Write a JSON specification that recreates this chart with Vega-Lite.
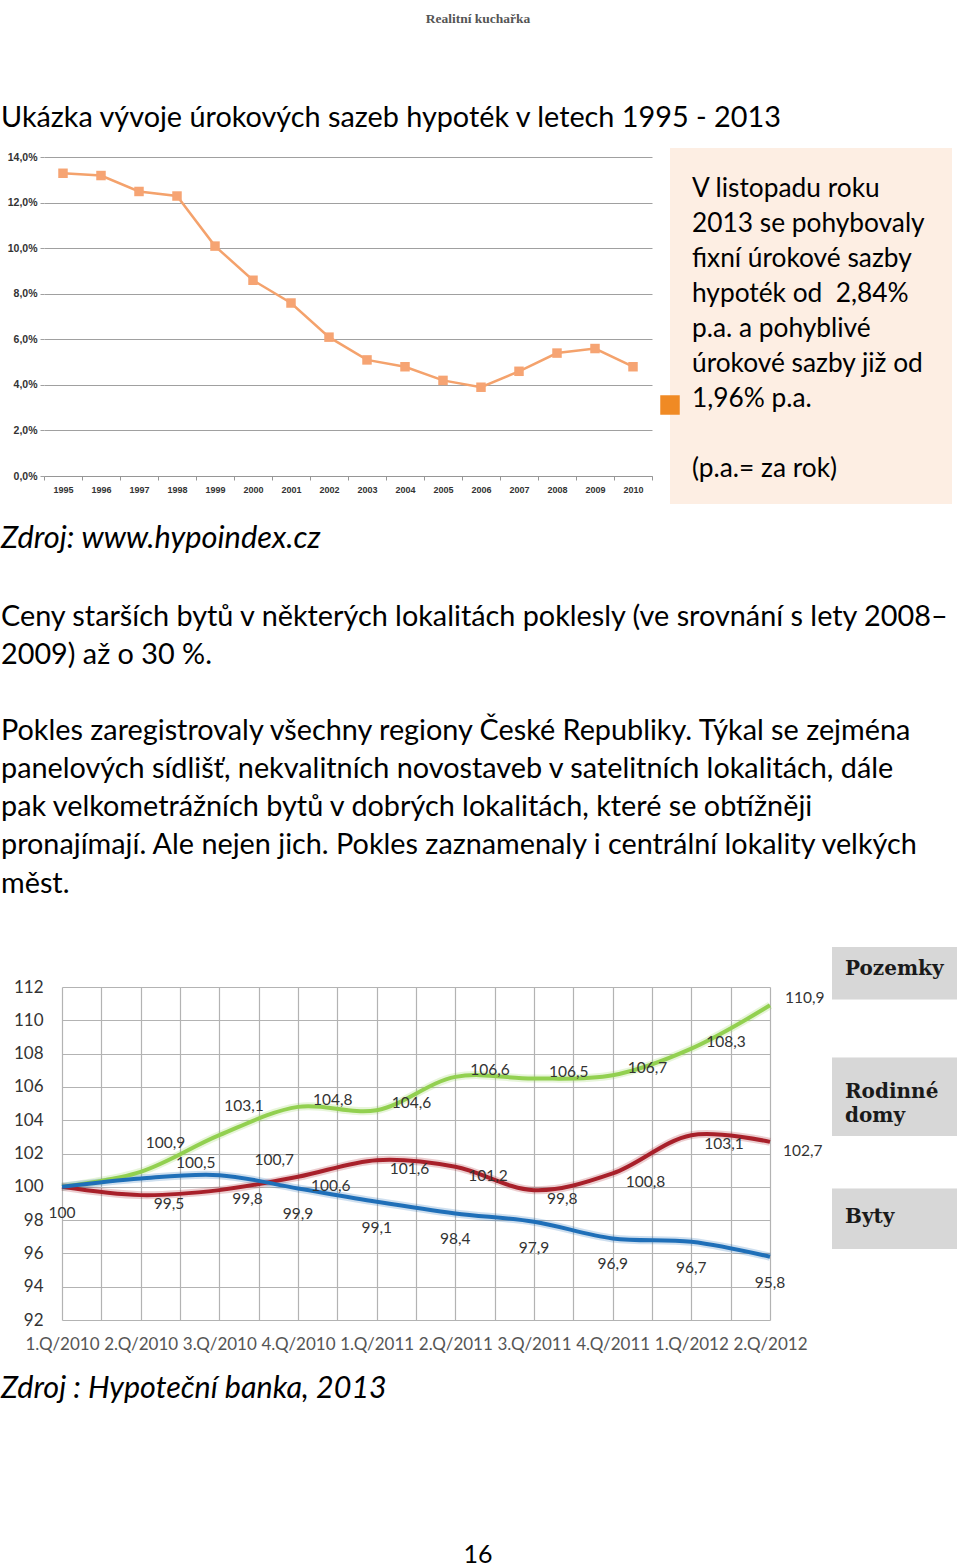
{
  "$schema": "https://vega.github.io/schema/vega-lite/v6.json",
  "padding": 0,
  "autosize": {"type": "pad"},
  "background": "white",
  "config": {
    "view": {"stroke": null},
    "locale": {"number": {"decimal": ",", "thousands": " ", "grouping": [3], "currency": ["", " Kč"]}},
    "title": {"font": "Lato", "color": "#000", "fontWeight": "normal", "subtitleColor": "#000"}
  },
  "columns": 3,
  "bounds": "flush",
  "align": "each",
  "spacing": 0,
  "resolve": {"scale": {"color": "independent", "shape": "independent"}, "legend": {"color": "independent", "shape": "independent"}},
  "concat": [
    {"width": 44, "height": 1, "data": {"values": []}, "mark": "point",
     "title": {"text": "Ukázka vývoje úrokových sazeb hypoték v letech 1995 - 2013", "orient": "bottom", "anchor": "start", "frame": "group", "offset": 103, "dx": 1, "fontSize": 28.8}},
    {"width": 626, "height": 1, "data": {"values": []}, "mark": "point",
     "title": {"text": "Realitní kuchařka", "orient": "bottom", "anchor": "middle", "frame": "group", "offset": 11, "dx": 121, "font": "Liberation Serif", "fontSize": 13.5, "fontWeight": "bold", "color": "#555"}},
    {"width": 282, "height": 148, "data": {"values": []}, "mark": "point"},

    {"width": 44, "height": 1, "data": {"values": []}, "mark": "point"},
    {
      "width": 626, "height": 328,
      "data": {"values": [
        {"year": "1995", "rate": 0.133}, {"year": "1996", "rate": 0.132}, {"year": "1997", "rate": 0.125},
        {"year": "1998", "rate": 0.123}, {"year": "1999", "rate": 0.101}, {"year": "2000", "rate": 0.086},
        {"year": "2001", "rate": 0.076}, {"year": "2002", "rate": 0.061}, {"year": "2003", "rate": 0.051},
        {"year": "2004", "rate": 0.048}, {"year": "2005", "rate": 0.042}, {"year": "2006", "rate": 0.039},
        {"year": "2007", "rate": 0.046}, {"year": "2008", "rate": 0.054}, {"year": "2009", "rate": 0.056},
        {"year": "2010", "rate": 0.048}
      ]},
      "encoding": {
        "x": {"field": "year", "type": "ordinal", "scale": {"type": "band", "paddingInner": 0, "paddingOuter": 0, "range": [0, 608]},
              "axis": {"title": null, "labelAngle": 0, "tickBand": "extent", "grid": false, "labelOverlap": false,
                       "domainColor": "#969696", "tickColor": "#969696", "tickSize": 4,
                       "labelFont": "Liberation Sans", "labelFontWeight": "bold", "labelFontSize": 9, "labelColor": "#333", "labelPadding": 5}},
        "y": {"field": "rate", "type": "quantitative", "scale": {"domain": [0, 0.1441], "nice": false},
              "axis": {"title": null, "values": [0, 0.02, 0.04, 0.06, 0.08, 0.1, 0.12, 0.14], "format": ".1%", "domain": false,
                       "grid": true, "gridColor": "#a0a0a0", "tickColor": "#a0a0a0", "tickSize": 4,
                       "labelFont": "Liberation Sans", "labelFontWeight": "bold", "labelFontSize": 10.5, "labelColor": "#333", "labelPadding": 3}}
      },
      "layer": [
        {"mark": {"type": "line", "color": "#f4a26c", "strokeWidth": 2.5}},
        {"mark": {"type": "point", "shape": "square", "filled": true, "size": 90, "color": "#f6a473", "opacity": 1}}
      ]
    },
    {
      "width": 282, "height": 356,
      "view": {"fill": "#fdeee3", "stroke": null},
      "title": {"text": ["V listopadu roku", "2013 se pohybovaly", "fixní úrokové sazby", "hypoték od\u00a0 2,84%", "p.a. a pohyblivé", "úrokové sazby již od", "1,96% p.a."],
                "orient": "bottom", "anchor": "start", "frame": "group", "offset": -328, "dx": 22, "lineHeight": 35, "fontSize": 26.3},
      "data": {"values": [{"item": "Úroková sazba"}]},
      "mark": {"type": "text", "text": ""},
      "encoding": {
        "color": {"field": "item", "type": "nominal", "scale": {"range": ["#f08a24"]},
                  "legend": {"orient": "none", "legendX": -10, "legendY": 247, "title": null, "symbolType": "square", "symbolSize": 380, "symbolStrokeWidth": 0, "labelExpr": "''", "padding": 0}}
      }
    },

    {"width": 44, "height": 1, "data": {"values": []}, "mark": "point",
     "title": {"text": "Zdroj: www.hypoindex.cz", "orient": "bottom", "anchor": "start", "frame": "group", "offset": 19, "dx": 1, "fontSize": 30.8, "fontStyle": "italic"}},
    {"width": 626, "height": 1, "data": {"values": []}, "mark": "point",
     "title": {"text": ["Ceny starších bytů v některých lokalitách poklesly (ve srovnání s lety 2008–", "2009) až o 30 %."],
               "orient": "bottom", "anchor": "start", "frame": "group", "offset": 98, "dx": -43, "fontSize": 28.8, "lineHeight": 38.14}},
    {"width": 282, "height": 483, "data": {"values": []}, "mark": "point",
     "title": {"text": ["Pokles zaregistrovaly všechny regiony České Republiky. Týkal se zejména", "panelových sídlišť, nekvalitních novostaveb v satelitních lokalitách, dále", "pak velkometrážních bytů v dobrých lokalitách, které se obtížněji", "pronajímají. Ale nejen jich. Pokles zaznamenaly i centrální lokality velkých", "měst."],
               "orient": "bottom", "anchor": "start", "frame": "group", "offset": -270, "dx": -669, "fontSize": 28.8, "lineHeight": 38.14}},

    {"width": 44, "height": 1, "data": {"values": []}, "mark": "point"},
    {
      "width": 626, "height": 333,
      "data": {"values": [
        {"quarter": "1.Q/2010", "series": "Pozemky", "index": 100},
        {"quarter": "2.Q/2010", "series": "Pozemky", "index": 100.9},
        {"quarter": "3.Q/2010", "series": "Pozemky", "index": 103.1},
        {"quarter": "4.Q/2010", "series": "Pozemky", "index": 104.8},
        {"quarter": "1.Q/2011", "series": "Pozemky", "index": 104.6},
        {"quarter": "2.Q/2011", "series": "Pozemky", "index": 106.6},
        {"quarter": "3.Q/2011", "series": "Pozemky", "index": 106.5},
        {"quarter": "4.Q/2011", "series": "Pozemky", "index": 106.7},
        {"quarter": "1.Q/2012", "series": "Pozemky", "index": 108.3},
        {"quarter": "2.Q/2012", "series": "Pozemky", "index": 110.9},
        {"quarter": "1.Q/2010", "series": "Rodinné domy", "index": 100},
        {"quarter": "2.Q/2010", "series": "Rodinné domy", "index": 99.5},
        {"quarter": "3.Q/2010", "series": "Rodinné domy", "index": 99.8},
        {"quarter": "4.Q/2010", "series": "Rodinné domy", "index": 100.6},
        {"quarter": "1.Q/2011", "series": "Rodinné domy", "index": 101.6},
        {"quarter": "2.Q/2011", "series": "Rodinné domy", "index": 101.2},
        {"quarter": "3.Q/2011", "series": "Rodinné domy", "index": 99.8},
        {"quarter": "4.Q/2011", "series": "Rodinné domy", "index": 100.8},
        {"quarter": "1.Q/2012", "series": "Rodinné domy", "index": 103.1},
        {"quarter": "2.Q/2012", "series": "Rodinné domy", "index": 102.7},
        {"quarter": "1.Q/2010", "series": "Byty", "index": 100},
        {"quarter": "2.Q/2010", "series": "Byty", "index": 100.5},
        {"quarter": "3.Q/2010", "series": "Byty", "index": 100.7},
        {"quarter": "4.Q/2010", "series": "Byty", "index": 99.9},
        {"quarter": "1.Q/2011", "series": "Byty", "index": 99.1},
        {"quarter": "2.Q/2011", "series": "Byty", "index": 98.4},
        {"quarter": "3.Q/2011", "series": "Byty", "index": 97.9},
        {"quarter": "4.Q/2011", "series": "Byty", "index": 96.9},
        {"quarter": "1.Q/2012", "series": "Byty", "index": 96.7},
        {"quarter": "2.Q/2012", "series": "Byty", "index": 95.8}
      ]},
      "encoding": {
        "x": {"field": "quarter", "type": "ordinal",
              "sort": ["1.Q/2010","2.Q/2010","3.Q/2010","4.Q/2010","1.Q/2011","2.Q/2011","3.Q/2011","4.Q/2011","1.Q/2012","2.Q/2012"],
              "scale": {"type": "point", "padding": 0, "range": [18, 726]}}
      },
      "layer": [
        {
          "mark": {"type": "point", "opacity": 0},
          "encoding": {
            "x": {"field": "quarter", "type": "ordinal",
                  "sort": ["1.Q/2010","2.Q/2010","3.Q/2010","4.Q/2010","1.Q/2011","2.Q/2011","3.Q/2011","4.Q/2011","1.Q/2012","2.Q/2012"],
                  "axis": {"orient": "top", "title": null, "labels": false, "ticks": false, "domain": false, "grid": true, "gridColor": "#b3b3b3", "gridWidth": 1.2,
                           "tickOffset": 39.33, "values": ["1.Q/2010","2.Q/2010","3.Q/2010","4.Q/2010","1.Q/2011","2.Q/2011","3.Q/2011","4.Q/2011","1.Q/2012"]}}
          }
        },
        {
          "encoding": {
            "x": {"field": "quarter", "type": "ordinal",
                  "sort": ["1.Q/2010","2.Q/2010","3.Q/2010","4.Q/2010","1.Q/2011","2.Q/2011","3.Q/2011","4.Q/2011","1.Q/2012","2.Q/2012"],
                  "axis": {"orient": "bottom", "title": null, "labelAngle": 0, "labelOverlap": false, "grid": true, "gridColor": "#b3b3b3", "gridWidth": 1.2,
                           "ticks": false, "tickSize": 0, "domain": false, "labelFont": "Lato", "labelFontSize": 17, "labelColor": "#555", "labelPadding": 16}},
            "y": {"field": "index", "type": "quantitative", "scale": {"domain": [92, 112], "nice": false, "zero": false},
                  "axis": {"title": null, "values": [92, 94, 96, 98, 100, 102, 104, 106, 108, 110, 112], "domain": false, "ticks": false, "tickSize": 0, "offset": -18,
                           "grid": true, "gridColor": "#b3b3b3", "gridWidth": 1.2, "labelFont": "Lato", "labelFontSize": 17, "labelColor": "#333", "labelPadding": 19}}
          },
          "layer": [
            {
              "transform": [{"filter": "datum.quarter === '2.Q/2012'"}],
              "mark": {"type": "point", "filled": true, "size": 40000, "color": "#9c9c9c", "opacity": 0.55, "strokeWidth": 0},
              "encoding": {
                "shape": {"field": "series", "type": "nominal", "legend": null,
                          "scale": {"domain": ["Pozemky", "Rodinné domy", "Byty"],
                                    "range": ["M0.62,-0.58H1.87V-0.06H0.62Z", "M0.62,-0.84H1.87V-0.06H0.62Z", "M0.62,-0.68H1.87V-0.08H0.62Z"]}}
              }
            },
            {
              "transform": [{"filter": "datum.quarter === '2.Q/2012'"}],
              "mark": {"type": "point", "filled": true, "size": 40000, "color": "#d7d7d7", "opacity": 1, "strokeWidth": 0},
              "encoding": {
                "shape": {"field": "series", "type": "nominal", "legend": null,
                          "scale": {"domain": ["Pozemky", "Rodinné domy", "Byty"],
                                    "range": ["M0.02,-0.01L0.58,-0.34L0.58,-0.14Z M0.58,-0.62H1.84V-0.1H0.58Z",
                                              "M0.02,-0.01L0.58,-0.24L0.58,-0.1Z M0.58,-0.88H1.84V-0.1H0.58Z",
                                              "M0.02,-0.01L0.58,-0.26L0.58,-0.14Z M0.58,-0.72H1.84V-0.12H0.58Z"]}}
              }
            },
            {
              "mark": {"type": "line", "interpolate": "catmull-rom", "strokeWidth": 8, "opacity": 0.22},
              "encoding": {
                "color": {"field": "series", "type": "nominal", "legend": null,
                          "scale": {"domain": ["Pozemky", "Rodinné domy", "Byty"], "range": ["#92d050", "#a8202a", "#1f6fb8"]}}
              }
            },
            {
              "mark": {"type": "line", "interpolate": "catmull-rom", "strokeWidth": 4},
              "encoding": {
                "color": {"field": "series", "type": "nominal", "legend": null,
                          "scale": {"domain": ["Pozemky", "Rodinné domy", "Byty"], "range": ["#92d050", "#a8202a", "#1f6fb8"]}}
              }
            },
            {
              "transform": [{"filter": "datum.series === 'Pozemky' && (datum.quarter === '2.Q/2010' || datum.quarter === '3.Q/2010')"}],
              "mark": {"type": "text", "align": "left", "baseline": "middle", "dx": 5, "dy": -29, "font": "Lato", "fontSize": 15.5, "color": "#333"},
              "encoding": {"text": {"field": "index", "type": "quantitative", "format": ".4~r"}}
            },
            {
              "transform": [{"filter": "datum.series === 'Pozemky' && datum.quarter !== '1.Q/2010' && datum.quarter !== '2.Q/2010' && datum.quarter !== '3.Q/2010'"}],
              "mark": {"type": "text", "align": "left", "baseline": "middle", "dx": 15, "dy": -7, "font": "Lato", "fontSize": 15.5, "color": "#333"},
              "encoding": {"text": {"field": "index", "type": "quantitative", "format": ".4~r"}}
            },
            {
              "transform": [{"filter": "datum.series === 'Rodinné domy' && datum.quarter !== '1.Q/2010'"}],
              "mark": {"type": "text", "align": "left", "baseline": "middle", "dx": 13, "dy": 9, "font": "Lato", "fontSize": 15.5, "color": "#333"},
              "encoding": {"text": {"field": "index", "type": "quantitative", "format": ".4~r"}}
            },
            {
              "transform": [{"filter": "datum.series === 'Byty' && datum.quarter !== '2.Q/2010' && datum.quarter !== '3.Q/2010'"}],
              "mark": {"type": "text", "align": "center", "baseline": "middle", "dy": 26, "font": "Lato", "fontSize": 15.5, "color": "#333"},
              "encoding": {"text": {"field": "index", "type": "quantitative", "format": ".4~r"}}
            },
            {
              "transform": [{"filter": "datum.series === 'Byty' && (datum.quarter === '2.Q/2010' || datum.quarter === '3.Q/2010')"}],
              "mark": {"type": "text", "align": "center", "baseline": "middle", "dx": 55, "dy": -15, "font": "Lato", "fontSize": 15.5, "color": "#333"},
              "encoding": {"text": {"field": "index", "type": "quantitative", "format": ".4~r"}}
            },
            {
              "transform": [{"filter": "datum.quarter === '2.Q/2012' && datum.series === 'Pozemky'"}],
              "mark": {"type": "text", "align": "left", "baseline": "middle", "dx": 75, "dy": -36, "font": "DejaVu Serif", "fontWeight": "bold", "fontSize": 20, "color": "#1a1a1a"},
              "encoding": {"text": {"field": "series", "type": "nominal"}}
            },
            {
              "transform": [{"filter": "datum.quarter === '2.Q/2012' && datum.series === 'Rodinné domy'"}],
              "mark": {"type": "text", "align": "left", "baseline": "middle", "dx": 75, "dy": -50, "lineBreak": " ", "lineHeight": 24, "font": "DejaVu Serif", "fontWeight": "bold", "fontSize": 20, "color": "#1a1a1a"},
              "encoding": {"text": {"field": "series", "type": "nominal"}}
            },
            {
              "transform": [{"filter": "datum.quarter === '2.Q/2012' && datum.series === 'Byty'"}],
              "mark": {"type": "text", "align": "left", "baseline": "middle", "dx": 75, "dy": -40, "font": "DejaVu Serif", "fontWeight": "bold", "fontSize": 20, "color": "#1a1a1a"},
              "encoding": {"text": {"field": "series", "type": "nominal"}}
            }
          ]
        }
      ],
      "resolve": {"axis": {"x": "independent"}}
    },
    {"width": 282, "height": 1, "data": {"values": []}, "mark": "point",
     "title": {"text": "(p.a.= za rok)", "orient": "bottom", "anchor": "start", "frame": "group", "offset": -532, "dx": 22, "fontSize": 26.3}},

    {"width": 44, "height": 1, "data": {"values": []}, "mark": "point",
     "title": {"text": "Zdroj : Hypoteční banka, 2013", "orient": "bottom", "anchor": "start", "frame": "group", "offset": 53, "dx": 1, "fontSize": 30.5, "fontStyle": "italic"}},
    {"width": 626, "height": 1, "data": {"values": []}, "mark": "point",
     "title": {"text": "16", "orient": "bottom", "anchor": "middle", "frame": "group", "offset": 222, "dx": 121, "fontSize": 25}},
    {"width": 282, "height": 1, "data": {"values": []}, "mark": "point"}
  ]
}
